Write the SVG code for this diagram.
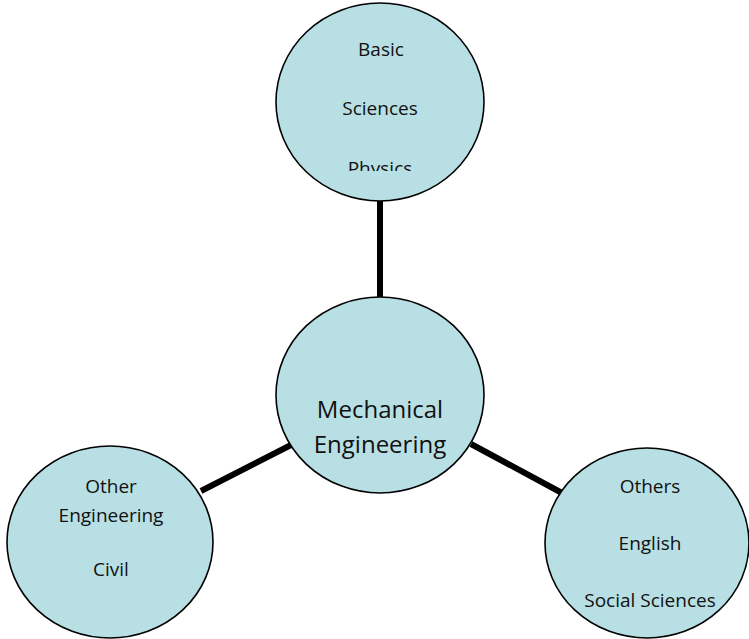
<svg xmlns="http://www.w3.org/2000/svg" width="749" height="639" viewBox="0 0 749 639">
<style>
.node{fill:#b8dfe4;stroke:#000;stroke-width:1.6}
.t{font-family:"Open Sans","Noto Sans",sans-serif;font-size:19px;fill:#111;text-anchor:middle}
.big{font-size:24px}
.link{stroke:#000;stroke-width:6;fill:none}
</style>
<defs>
<clipPath id="topclip"><rect x="0" y="0" width="749" height="171"/></clipPath>
</defs>
<rect width="749" height="639" fill="#fff"/>
<g id="connectors">
<line class="link" x1="380" y1="200" x2="380" y2="297"/>
<line class="link" x1="201" y1="491" x2="291" y2="445"/>
<line class="link" x1="471" y1="444" x2="562" y2="493"/>
</g>
<g id="basic-sciences">
<ellipse class="node" cx="380" cy="102" rx="104" ry="99"/>
<text class="t" x="381" y="56">Basic</text>
<text class="t" x="380" y="115">Sciences</text>
<text class="t" x="380" y="175" clip-path="url(#topclip)">Physics</text>
</g>
<g id="mechanical-engineering">
<ellipse class="node" cx="380" cy="395" rx="104" ry="98"/>
<text class="t big" x="380" y="418">Mechanical</text>
<text class="t big" x="380" y="453">Engineering</text>
</g>
<g id="other-engineering">
<ellipse class="node" cx="110" cy="542" rx="103" ry="96"/>
<text class="t" x="111" y="493">Other</text>
<text class="t" x="111" y="522">Engineering</text>
<text class="t" x="111" y="576">Civil</text>
</g>
<g id="others">
<ellipse class="node" cx="647" cy="543" rx="102" ry="95"/>
<text class="t" x="650" y="493">Others</text>
<text class="t" x="650" y="550">English</text>
<text class="t" x="650" y="607">Social Sciences</text>
</g>
</svg>
